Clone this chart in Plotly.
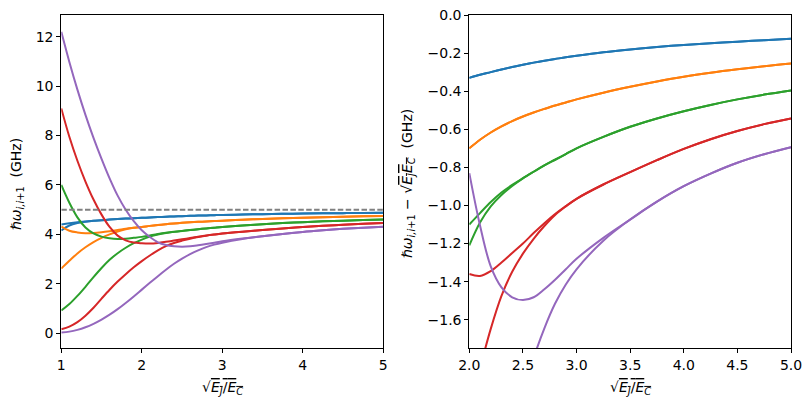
import plotly.graph_objects as go

# ---------------- data ----------------
LX = [1.0, 1.1, 1.2, 1.3, 1.4, 1.5, 1.6, 1.7, 1.8, 1.9,
      2.0, 2.1, 2.2, 2.3, 2.4, 2.5, 2.6, 2.7, 2.8, 2.9, 3.0,
      3.25, 3.5, 3.75, 4.0, 4.25, 4.5, 4.75, 5.0]

blue_a   = [4.40, 4.45, 4.49, 4.52, 4.55, 4.575, 4.60, 4.62, 4.64, 4.655,
            4.670, 4.686, 4.700, 4.714, 4.727, 4.739, 4.750, 4.760, 4.769, 4.778, 4.786,
            4.804, 4.819, 4.832, 4.843, 4.852, 4.860, 4.868, 4.875]
blue_b   = [4.16, 4.36, 4.46, 4.515, 4.55, 4.575, 4.60, 4.62, 4.64, 4.655,
            4.670, 4.686, 4.700, 4.714, 4.727, 4.739, 4.750, 4.760, 4.769, 4.778, 4.786,
            4.804, 4.819, 4.832, 4.843, 4.852, 4.860, 4.868, 4.875]
orange_a = [4.32, 4.15, 4.08, 4.05, 4.06, 4.09, 4.13, 4.175, 4.225, 4.265,
            4.300, 4.345, 4.383, 4.415, 4.443, 4.467, 4.488, 4.507, 4.525, 4.541, 4.557,
            4.592, 4.623, 4.651, 4.676, 4.697, 4.715, 4.731, 4.745]
orange_b = [2.62, 2.93, 3.23, 3.48, 3.69, 3.86, 4.00, 4.12, 4.21, 4.265,
            4.300, 4.345, 4.383, 4.415, 4.443, 4.467, 4.488, 4.507, 4.525, 4.541, 4.557,
            4.592, 4.623, 4.651, 4.676, 4.697, 4.715, 4.731, 4.745]
green_a  = [6.00, 5.28, 4.69, 4.28, 4.04, 3.91, 3.84, 3.81, 3.825, 3.86,
            3.900, 3.960, 4.018, 4.068, 4.108, 4.143, 4.177, 4.210, 4.240, 4.270, 4.300,
            4.360, 4.413, 4.457, 4.495, 4.528, 4.557, 4.582, 4.604]
green_b  = [0.92, 1.18, 1.51, 1.88, 2.27, 2.64, 2.97, 3.24, 3.46, 3.645,
            3.790, 3.910, 3.995, 4.055, 4.102, 4.142, 4.177, 4.210, 4.240, 4.270, 4.300,
            4.360, 4.413, 4.457, 4.495, 4.528, 4.557, 4.582, 4.604]
red_a    = [9.10, 7.95, 6.98, 6.14, 5.41, 4.80, 4.30, 3.95, 3.76, 3.67,
            3.640, 3.630, 3.655, 3.700, 3.750, 3.800, 3.855, 3.907, 3.955, 3.997, 4.035,
            4.110, 4.175, 4.238, 4.297, 4.348, 4.391, 4.427, 4.457]
red_b    = [0.16, 0.27, 0.45, 0.71, 1.03, 1.40, 1.76, 2.09, 2.39, 2.67,
            2.920, 3.145, 3.352, 3.525, 3.652, 3.747, 3.825, 3.892, 3.950, 3.995, 4.035,
            4.110, 4.175, 4.238, 4.297, 4.348, 4.391, 4.427, 4.457]
purple_a = [12.20, 10.98, 9.86, 8.84, 7.91, 7.06, 6.27, 5.57, 5.00, 4.54,
            4.170, 3.895, 3.680, 3.570, 3.518, 3.503, 3.518, 3.560, 3.610, 3.665, 3.720,
            3.830, 3.926, 4.020, 4.101, 4.167, 4.224, 4.269, 4.306]
purple_b = [0.03, 0.065, 0.135, 0.24, 0.38, 0.55, 0.75, 0.975, 1.225, 1.49,
            1.765, 2.040, 2.310, 2.570, 2.810, 3.020, 3.200, 3.355, 3.485, 3.585, 3.665,
            3.815, 3.926, 4.020, 4.101, 4.167, 4.224, 4.269, 4.306]

RX = [2.0, 2.1, 2.2, 2.3, 2.4, 2.5, 2.6, 2.7, 2.8, 2.9, 3.0,
      3.25, 3.5, 3.75, 4.0, 4.25, 4.5, 4.75, 5.0]

r_blue_a   = [-0.330, -0.314, -0.300, -0.286, -0.273, -0.261, -0.250, -0.240, -0.231, -0.222, -0.214,
              -0.196, -0.181, -0.168, -0.157, -0.148, -0.140, -0.132, -0.125]
r_blue_b   = [-0.330, -0.314, -0.300, -0.286, -0.273, -0.261, -0.250, -0.240, -0.231, -0.222, -0.214,
              -0.196, -0.181, -0.168, -0.157, -0.148, -0.140, -0.132, -0.125]
r_orange_a = [-0.700, -0.655, -0.617, -0.585, -0.557, -0.533, -0.512, -0.493, -0.475, -0.459, -0.443,
              -0.408, -0.377, -0.349, -0.324, -0.303, -0.285, -0.269, -0.255]
r_orange_b = [-0.700, -0.655, -0.617, -0.585, -0.557, -0.533, -0.512, -0.493, -0.475, -0.459, -0.443,
              -0.408, -0.377, -0.349, -0.324, -0.303, -0.285, -0.269, -0.255]
r_green_a  = [-1.100, -1.040, -0.982, -0.932, -0.892, -0.857, -0.823, -0.790, -0.760, -0.730, -0.700,
              -0.640, -0.587, -0.543, -0.505, -0.472, -0.443, -0.418, -0.396]
r_green_b  = [-1.210, -1.090, -1.005, -0.945, -0.898, -0.858, -0.823, -0.790, -0.760, -0.730, -0.700,
              -0.640, -0.587, -0.543, -0.505, -0.472, -0.443, -0.418, -0.396]
r_red_a    = [-1.360, -1.370, -1.345, -1.300, -1.250, -1.200, -1.145, -1.093, -1.045, -1.003, -0.965,
              -0.890, -0.825, -0.762, -0.703, -0.652, -0.609, -0.573, -0.543]
r_red_b    = [-2.080, -1.855, -1.648, -1.475, -1.348, -1.253, -1.175, -1.108, -1.050, -1.005, -0.965,
              -0.890, -0.825, -0.762, -0.703, -0.652, -0.609, -0.573, -0.543]
r_purple_a = [-0.830, -1.105, -1.320, -1.430, -1.482, -1.497, -1.482, -1.440, -1.390, -1.335, -1.280,
              -1.170, -1.074, -0.980, -0.899, -0.833, -0.776, -0.731, -0.694]
r_purple_b = [-3.235, -2.960, -2.690, -2.430, -2.190, -1.980, -1.800, -1.645, -1.515, -1.415, -1.335,
              -1.185, -1.074, -0.980, -0.899, -0.833, -0.776, -0.731, -0.694]

LEFT_YTICKS = [0, 2, 4, 6, 8, 10, 12]
LEFT_XTICKS = [1, 2, 3, 4, 5]
RIGHT_XTICKS = [2.0, 2.5, 3.0, 3.5, 4.0, 4.5, 5.0]
RIGHT_YTICKS = [0.0, -0.2, -0.4, -0.6, -0.8, -1.0, -1.2, -1.4, -1.6]
REF_LEVEL = [5, 5]
REF_X = [1, 5]

COLORS = ["#1f77b4", "#ff7f0e", "#2ca02c", "#d62728", "#9467bd"]

left_series = [(blue_a, blue_b), (orange_a, orange_b), (green_a, green_b),
               (red_a, red_b), (purple_a, purple_b)]
right_series = [(r_blue_a, r_blue_b), (r_orange_a, r_orange_b), (r_green_a, r_green_b),
                (r_red_a, r_red_b), (r_purple_a, r_purple_b)]

W, H = 811, 411
FONT = "DejaVu Sans"

fig = go.Figure()

for i, (a, b) in enumerate(left_series):
    for ys in (a, b):
        fig.add_trace(go.Scatter(x=LX, y=ys, mode="lines", xaxis="x", yaxis="y",
                                 line=dict(color=COLORS[i], width=2, shape="spline", smoothing=1.0),
                                 showlegend=False, hoverinfo="skip"))
fig.add_trace(go.Scatter(x=REF_X, y=REF_LEVEL, mode="lines", xaxis="x", yaxis="y",
                         line=dict(color="#808080", width=2, dash="5.5px,2.4px"),
                         showlegend=False, hoverinfo="skip"))

for i, (a, b) in enumerate(right_series):
    for ys in (a, b):
        fig.add_trace(go.Scatter(x=RX, y=ys, mode="lines", xaxis="x2", yaxis="y2",
                                 line=dict(color=COLORS[i], width=2, shape="spline", smoothing=1.0),
                                 showlegend=False, hoverinfo="skip"))

def px_x(p):
    return p / W

def px_y(p):
    return 1 - p / H

axis_common = dict(showline=True, linecolor="black", linewidth=1, mirror=True,
                   ticks="outside", ticklen=4, tickwidth=1, tickcolor="black",
                   showgrid=False, zeroline=False, automargin=False,
                   tickfont=dict(family=FONT, size=14, color="black"))

fig.update_layout(
    width=W, height=H,
    margin=dict(l=0, r=0, t=0, b=0, pad=0),
    paper_bgcolor="white", plot_bgcolor="white",
    xaxis=dict(domain=[px_x(61.3), px_x(383.3)], range=[1, 5], tickvals=LEFT_XTICKS,
               anchor="y", **axis_common),
    yaxis=dict(domain=[px_y(348.3), px_y(15)], range=[-0.61, 12.88], tickvals=LEFT_YTICKS,
               anchor="x", **axis_common),
    xaxis2=dict(domain=[px_x(469.3), px_x(791)], range=[2, 5], tickvals=RIGHT_XTICKS,
                tickformat=".1f", anchor="y2", **axis_common),
    yaxis2=dict(domain=[px_y(348.3), px_y(15)], range=[-1.75, 0], tickvals=RIGHT_YTICKS,
                tickformat=".1f", anchor="x2", **axis_common),
)

xt = "√<span style='text-decoration:overline'><i>E</i><sub><i>J</i></sub>/<i>E</i><sub><i>C</i></sub></span>"
ann_font = dict(family=FONT, size=14, color="black")
fig.add_annotation(text=xt, x=px_x(222), y=px_y(388), xref="paper", yref="paper",
                   showarrow=False, font=ann_font, xanchor="center", yanchor="middle")
fig.add_annotation(text=xt, x=px_x(630), y=px_y(388), xref="paper", yref="paper",
                   showarrow=False, font=ann_font, xanchor="center", yanchor="middle")
fig.add_annotation(text="<i>ℏω</i><sub><i>i,i</i>+1</sub>  (GHz)", x=px_x(17), y=px_y(184),
                   xref="paper", yref="paper", showarrow=False, font=ann_font, textangle=-90,
                   xanchor="center", yanchor="middle")
fig.add_annotation(text="<i>ℏω</i><sub><i>i,i</i>+1</sub> − √<span style='text-decoration:overline'><i>E</i><sub><i>J</i></sub><i>E</i><sub><i>C</i></sub></span>  (GHz)",
                   x=px_x(408), y=px_y(183),
                   xref="paper", yref="paper", showarrow=False, font=ann_font, textangle=-90,
                   xanchor="center", yanchor="middle")

fig.write_html("out.html")
